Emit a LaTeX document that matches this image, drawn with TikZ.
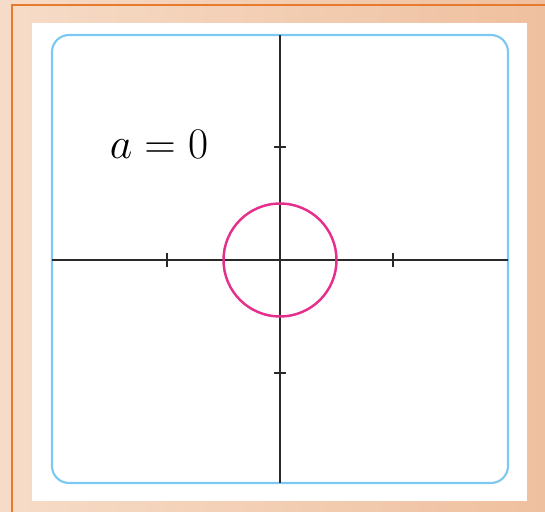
\documentclass[tikz,border=0pt]{standalone}
\usepackage{tikz}
\usetikzlibrary{positioning,calc}
\usepackage{xcolor}
\definecolor{peachL}{HTML}{F6DCC8}
\definecolor{peachR}{HTML}{EFC09F}
\definecolor{edgeorange}{HTML}{E87A2E}
\definecolor{panelblue}{HTML}{7CC8F2}
\definecolor{curvepink}{HTML}{E62E8C}
\definecolor{axisgray}{HTML}{2A2A2A}

\begin{document}
\begin{tikzpicture}[
  x=0.2mm, y=-0.2mm,
  axis/.style={draw=axisgray, line width=1.1pt},
  tick/.style={draw=axisgray, line width=1.1pt},
  frame/.style={draw=panelblue, line width=1.2pt, rounded corners=3.4mm},
  curve/.style={draw=curvepink, line width=1.4pt},
  lbl/.style={font=\fontsize{24}{28}\selectfont, text=black, inner sep=0pt},
]
  % background and page size
  \shade[left color=peachL, right color=peachR] (0,0) rectangle (545,512);
  \useasboundingbox (0,0) rectangle (545,512);
  \draw[edgeorange, line width=1.1pt] (12,512) -- (12,5) -- (545,5);
  \fill[white] (32,23) rectangle (527,501);
  \draw[frame] (52,35) rectangle (508,483);

  % axes
  \coordinate (o) at (280,260);
  \coordinate (xl) at (52,260);
  \coordinate (xr) at (508,260);
  \coordinate (yt) at (280,35);
  \coordinate (yb) at (280,483);
  \draw[axis] (xl) -- (xr);
  \draw[axis] (yt) -- (yb);
  \foreach \t in {-113,113} {
    \draw[tick] ($(o)+(\t,-7)$) -- ($(o)+(\t,7)$);
    \draw[tick] ($(o)+(-6,\t)$) -- ($(o)+(6,\t)$);
  }

  % the curve
  \draw[curve] (o) circle[radius=11.3mm];

  \node[lbl, anchor=base] (alabel) at (159,159) {$a=0$};
\end{tikzpicture}
\end{document}
